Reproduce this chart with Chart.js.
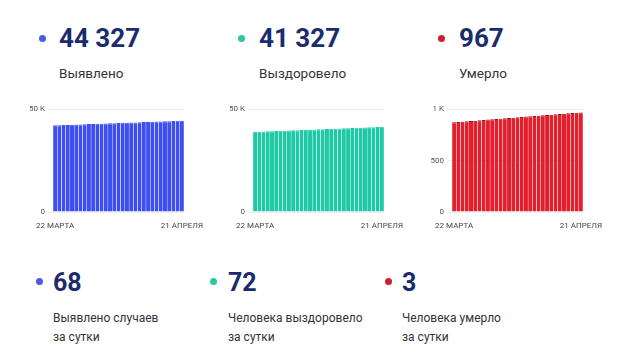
<!DOCTYPE html>
<html>
<head>
<meta charset="utf-8">
<script src="https://cdn.jsdelivr.net/npm/chart.js@4"></script>
<style>
  html, body { margin: 0; padding: 0; background: #fff; }
  body { width: 621px; height: 361px; position: relative; overflow: hidden; font-family: Roboto, Arial, sans-serif; }
  .dot { position: absolute; width: 7px; height: 7px; border-radius: 50%; }
  .num { position: absolute; font-size: 26px; line-height: 1; font-weight: 700; color: #1b2c6c; white-space: nowrap; }
  .num.small { font-size: 25px; }
  .lbl { position: absolute; font-size: 13.5px; line-height: 1; color: #333; white-space: nowrap; }
  .lbl2 { position: absolute; font-size: 12px; line-height: 19px; color: #333; white-space: nowrap; }
  canvas { position: absolute; }
</style>
</head>
<body>
<!-- top totals -->
<div class="dot" style="left:39px;top:35px;background:#4a5be6"></div>
<div class="num" style="left:59px;top:25px">44 327</div>
<div class="lbl" style="left:59px;top:67px">Выявлено</div>

<div class="dot" style="left:238px;top:35px;background:#2cc6a2"></div>
<div class="num" style="left:259px;top:25px">41 327</div>
<div class="lbl" style="left:259px;top:67px">Выздоровело</div>

<div class="dot" style="left:438px;top:35px;background:#cc1f2d"></div>
<div class="num" style="left:459px;top:25px">967</div>
<div class="lbl" style="left:459px;top:67px">Умерло</div>

<canvas id="c1" width="190" height="135" style="left:20px;top:100px"></canvas>
<canvas id="c2" width="190" height="135" style="left:220px;top:100px"></canvas>
<canvas id="c3" width="190" height="135" style="left:419px;top:100px"></canvas>

<!-- daily figures -->
<div class="dot" style="left:36px;top:278px;background:#4a5be6"></div>
<div class="num small" style="left:53px;top:270px">68</div>
<div class="lbl2" style="left:53px;top:309px">Выявлено случаев<br>за сутки</div>

<div class="dot" style="left:210px;top:278px;background:#2cc6a2"></div>
<div class="num small" style="left:228px;top:270px">72</div>
<div class="lbl2" style="left:228px;top:309px">Человека выздоровело<br>за сутки</div>

<div class="dot" style="left:385px;top:278px;background:#cc1f2d"></div>
<div class="num small" style="left:402px;top:270px">3</div>
<div class="lbl2" style="left:402px;top:309px">Человека умерло<br>за сутки</div>

<script>
// days from 22 March to 21 April
const days = ['22.03', '23.03', '24.03', '25.03', '26.03', '27.03', '28.03', '29.03', '30.03', '31.03',
  '01.04', '02.04', '03.04', '04.04', '05.04', '06.04', '07.04', '08.04', '09.04', '10.04',
  '11.04', '12.04', '13.04', '14.04', '15.04', '16.04', '17.04', '18.04', '19.04', '20.04', '21.04'];
const firstLabel = '22 МАРТА';
const lastLabel = '21 АПРЕЛЯ';

const confirmed = [42060, 42136, 42212, 42287, 42363, 42438, 42515, 42590, 42666, 42742,
  42817, 42893, 42968, 43046, 43121, 43197, 43272, 43349, 43423, 43500,
  43574, 43651, 43727, 43802, 43880, 43955, 44031, 44108, 44182, 44259, 44327];
const recovered = [38904, 38985, 39066, 39147, 39228, 39309, 39391, 39472, 39553, 39634,
  39716, 39797, 39878, 39960, 40040, 40121, 40203, 40284, 40365, 40447,
  40527, 40608, 40690, 40771, 40852, 40934, 41013, 41094, 41176, 41255, 41327];
const deaths = [871, 874, 877, 880, 884, 887, 890, 893, 897, 900,
  903, 906, 910, 913, 916, 919, 923, 926, 929, 932,
  935, 939, 942, 945, 948, 951, 955, 958, 961, 964, 967];

const casesTicks = { max: 50000, step: 50000, names: { 0: '0', 50000: '50 K' } };
const deathTicks = { max: 1000, step: 500, names: { 0: '0', 500: '500', 1000: '1 K' } };

Chart.defaults.font.family = 'Roboto, Arial, sans-serif';
Chart.defaults.animation = false;

function makeChart(id, values, color, edge, ticksDef) {
  return new Chart(document.getElementById(id), {
    type: 'bar',
    data: {
      labels: days,
      datasets: [{
        data: values,
        backgroundColor: color,
        borderColor: edge,
        borderWidth: { top: 1, left: 0, right: 0, bottom: 0 },
        borderSkipped: false,
        categoryPercentage: 1,
        barPercentage: 0.95
      }]
    },
    options: {
      responsive: false,
      devicePixelRatio: 1,
      layout: { padding: { top: 9, right: 26, bottom: 0, left: 0 } },
      plugins: { legend: { display: false }, tooltip: { enabled: false } },
      scales: {
        x: {
          grid: { display: false, drawTicks: false },
          border: { display: false },
          ticks: {
            autoSkip: false,
            maxRotation: 0,
            padding: 9,
            color: '#444',
            font: { size: 8 },
            callback: (v, i) => i === 0 ? firstLabel : (i === days.length - 1 ? lastLabel : '')
          },
          afterFit: s => { s.height = 23; s.paddingLeft = 0; s.paddingRight = 0; }
        },
        y: {
          min: 0,
          max: ticksDef.max,
          grid: { color: '#ebebeb', tickLength: 5, lineWidth: 1 },
          border: { display: false },
          ticks: {
            stepSize: ticksDef.step,
            padding: 3,
            color: '#555',
            font: { size: 8 },
            callback: v => ticksDef.names[v] || ''
          },
          afterFit: s => { s.width = 33; s.paddingTop = 0; s.paddingBottom = 0; }
        }
      }
    }
  });
}

makeChart('c1', confirmed, '#3d4ff0', '#3d4ff0', casesTicks);
makeChart('c2', recovered, '#1fc9a5', '#1fc9a5', casesTicks);
makeChart('c3', deaths, '#e41f2d', '#9c1420', deathTicks);
</script>
</body>
</html>
